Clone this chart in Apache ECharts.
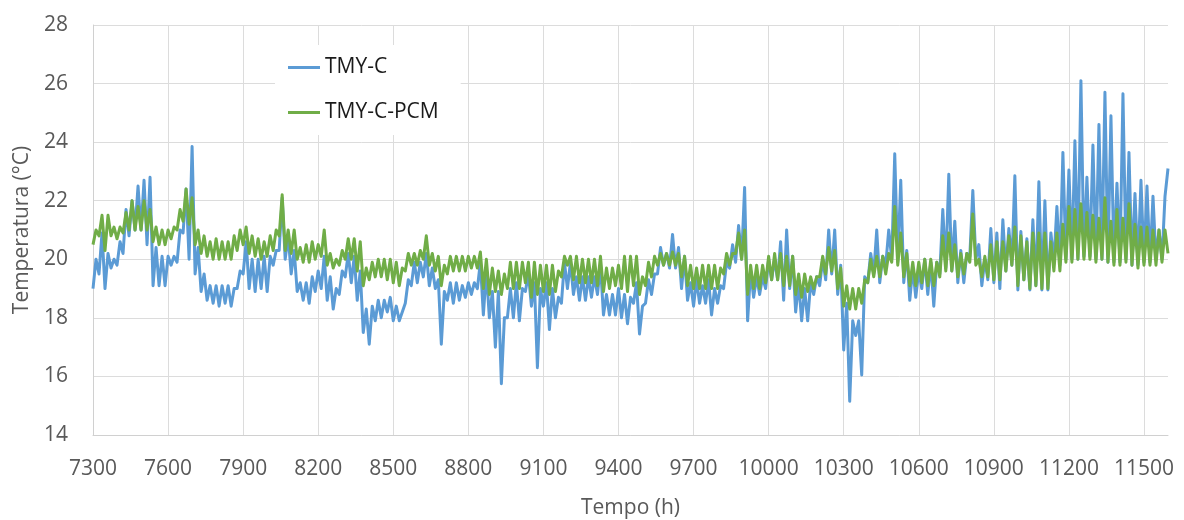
<!DOCTYPE html>
<html>
<head>
<meta charset="utf-8">
<script src="https://cdn.jsdelivr.net/npm/echarts@6/dist/echarts.min.js"></script>
<style>
html,body{margin:0;padding:0;background:#fff;}
#chart{width:1184px;height:520px;}
</style>
</head>
<body>
<div id="chart"></div>
<script>
// Hour of first sample and sampling step (hours)
const startHour = 7300;
const stepHours = 12;
const endHour = 11596;
const seriesNames = ['TMY-C', 'TMY-C-PCM'];

// TMY-C: per day [night, day] pairs
const tmyC = [
19.0,20.0, 19.5,20.9, 19.0,20.2, 19.7,20.0, 19.8,20.6, 20.2,21.7, 20.8,22.0, 21.0,22.5, 21.0,22.7, 20.5,22.8,
19.1,20.4, 19.1,20.1, 19.1,20.1, 19.8,20.1, 19.9,21.0, 20.9,22.4, 20.0,23.85, 19.5,20.4, 18.9,19.5, 18.6,19.1,
18.5,19.1, 18.4,19.1, 18.5,19.1, 18.4,19.0, 19.0,19.6, 19.5,20.6, 19.0,20.0, 18.9,20.0, 19.0,20.1, 18.9,20.1,
19.8,20.3, 20.3,22.1, 20.0,20.8, 19.5,20.3, 18.9,19.2, 18.6,19.2, 18.5,19.4, 18.9,19.6, 19.0,20.1, 18.6,19.4,
18.3,19.0, 18.8,19.6, 19.4,20.2, 19.2,20.1, 18.6,19.6, 17.5,18.3, 17.1,18.4, 17.9,18.6, 18.0,18.6, 18.2,18.7,
17.9,18.4, 17.9,18.2, 18.5,19.3, 19.1,19.9, 19.2,19.9, 19.4,20.2, 19.1,19.7, 19.0,19.3, 17.1,18.9, 18.6,19.2,
18.5,19.2, 18.6,19.1, 18.7,19.2, 18.8,19.2, 19.0,19.9, 18.1,19.6, 18.0,18.9, 17.0,18.9, 15.75,18.0, 18.0,19.0,
18.0,19.2, 17.9,19.0, 18.9,19.5, 18.4,19.2, 16.3,19.0, 18.4,19.2, 17.6,19.0, 18.0,18.7, 18.5,19.9, 19.0,19.9,
18.8,19.4, 18.6,19.4, 18.6,19.4, 18.7,19.4, 18.8,19.8, 18.1,18.8, 18.1,18.8, 18.1,19.0, 18.0,18.8, 17.8,18.7,
18.5,19.2, 17.45,18.4, 18.5,19.3, 18.8,19.5, 19.5,20.4, 19.8,20.2, 19.7,20.85, 19.7,20.4, 19.0,20.1, 18.6,19.2,
18.4,19.3, 18.5,19.1, 18.5,19.3, 18.1,19.0, 18.5,19.1, 19.0,19.9, 19.7,20.5, 19.9,21.15, 20.0,22.45, 17.9,19.6,
18.7,19.4, 18.8,19.4, 19.0,20.0, 19.3,20.0, 19.3,20.6, 18.6,21.0, 19.0,20.1, 18.2,19.2, 17.9,19.0, 17.9,19.2,
18.8,19.4, 19.1,20.0, 19.3,21.0, 19.5,21.0, 18.8,19.8, 16.9,18.5, 15.15,17.9, 17.4,17.9, 16.05,19.4, 19.2,20.2,
19.5,21.0, 19.2,20.1, 19.8,21.0, 20.0,23.6, 19.9,22.7, 19.2,20.3, 18.6,19.7, 18.7,19.6, 19.0,20.0, 18.8,19.9,
18.4,19.9, 19.5,21.7, 19.7,22.9, 19.6,21.3, 19.2,20.3, 19.2,20.2, 20.1,22.35, 20.0,20.5, 19.1,20.0, 19.3,21.05,
19.2,20.9, 19.0,21.35, 19.6,21.05, 19.8,22.85, 18.95,20.95, 19.3,20.7, 18.95,21.35, 19.1,22.65, 18.95,22.0, 18.95,20.9,
19.9,21.8, 19.8,23.65, 20.0,23.05, 20.0,24.05, 20.0,26.1, 20.1,22.8, 20.1,23.9, 20.0,24.6, 20.0,25.7, 19.9,24.9,
19.9,22.6, 19.9,25.65, 20.0,23.65, 19.8,22.25, 19.8,22.7, 19.9,22.5, 19.9,22.15, 20.0,21.0, 20.0,22.15, 23.1
];

// TMY-C-PCM: per day [night, day] pairs
const tmyCPcm = [
20.5,21.0, 20.8,21.5, 20.3,21.5, 20.8,21.1, 20.7,21.1, 20.9,21.6, 21.0,22.0, 21.0,21.8, 21.0,22.0, 21.0,21.7,
20.6,21.1, 20.5,21.0, 20.5,21.0, 20.7,21.1, 21.0,21.7, 21.3,22.4, 21.2,22.1, 20.5,21.0, 20.2,20.8, 20.1,20.6,
20.0,20.7, 20.0,20.6, 20.0,20.6, 20.0,20.8, 20.3,21.0, 20.5,21.1, 20.2,20.8, 20.1,20.7, 20.0,20.6, 20.1,20.8,
20.3,21.0, 20.8,22.2, 20.3,21.0, 20.2,21.0, 20.0,20.4, 19.9,20.5, 19.9,20.6, 20.0,20.5, 20.1,21.0, 19.8,20.2,
19.7,20.0, 19.8,20.3, 20.0,20.7, 20.0,20.7, 19.6,20.6, 19.1,19.7, 19.3,19.9, 19.4,20.0, 19.4,20.0, 19.3,20.0,
19.2,19.9, 19.1,19.7, 19.6,20.2, 19.8,20.2, 19.8,20.3, 20.0,20.8, 19.8,20.2, 19.6,20.1, 19.1,19.8, 19.5,20.1,
19.6,20.1, 19.6,20.1, 19.6,20.1, 19.7,20.1, 19.7,20.25, 19.0,20.0, 18.8,19.7, 18.9,19.6, 18.8,19.5, 19.0,19.9,
19.0,19.9, 19.0,19.9, 19.2,19.9, 18.7,19.9, 18.8,19.8, 18.9,19.8, 18.8,19.8, 18.9,19.6, 19.4,20.1, 19.8,20.1,
19.3,20.1, 19.2,20.0, 19.2,20.0, 19.2,20.0, 19.1,20.1, 18.9,19.7, 19.0,19.7, 19.1,19.8, 19.0,20.1, 18.9,20.1,
19.1,20.1, 18.8,19.4, 19.1,19.9, 19.4,20.1, 19.8,20.2, 19.8,20.2, 19.8,20.25, 19.8,20.2, 19.4,20.1, 19.1,19.8,
19.0,19.7, 19.0,19.8, 19.0,19.8, 19.0,19.8, 19.0,19.7, 19.5,20.2, 19.8,20.2, 20.2,20.9, 20.0,21.0, 18.8,19.8,
19.0,19.8, 19.0,19.8, 19.2,20.1, 19.3,20.2, 19.3,20.2, 19.1,20.1, 19.1,20.1, 18.8,19.5, 18.7,19.5, 18.9,19.4,
19.0,19.4, 19.4,20.1, 19.5,20.4, 19.6,20.3, 19.0,19.7, 18.4,19.1, 18.3,19.0, 18.3,19.0, 18.5,19.3, 19.2,20.0,
19.4,20.1, 19.4,20.1, 19.5,20.2, 19.9,21.8, 19.8,20.9, 19.4,20.2, 19.1,19.9, 19.1,19.9, 19.2,20.0, 19.1,20.0,
19.1,19.9, 19.4,20.8, 19.6,20.9, 19.6,20.5, 19.4,20.2, 19.5,20.2, 19.9,21.55, 19.8,20.0, 19.4,20.1, 19.4,20.5,
19.3,20.6, 19.3,20.6, 19.6,20.8, 19.8,21.1, 19.1,20.8, 19.3,20.6, 19.0,20.9, 19.1,20.9, 19.0,20.9, 19.0,20.6,
19.6,20.9, 19.6,21.2, 19.9,21.8, 19.9,21.7, 20.0,21.9, 20.0,21.6, 20.0,21.5, 19.9,21.4, 20.0,22.1, 19.9,21.3,
19.8,21.7, 19.8,21.4, 19.9,21.9, 19.8,21.2, 19.7,21.1, 19.8,21.1, 19.8,21.0, 19.8,21.0, 19.9,21.0, 20.2
];

function toPairs(values) {
  return values.map((v, i) => [Math.min(startHour + i * stepHours, endHour), v]);
}

const font = '"Open Sans", "Liberation Sans", sans-serif';
const chart = echarts.init(document.getElementById('chart'), null, {renderer: 'canvas'});
chart.setOption({
  animation: false,
  backgroundColor: '#ffffff',
  grid: {left: 93, right: 16, top: 25, bottom: 85, outerBoundsMode: 'none', containLabel: false},
  legend: {
    orient: 'vertical',
    left: 275, top: 45,
    padding: [12, 22, 12, 13],
    backgroundColor: '#ffffff',
    itemWidth: 32, itemHeight: 3,
    itemGap: 24,
    icon: 'rect',
    textStyle: {fontFamily: font, fontSize: 21, color: '#1a1a1a'},
    data: seriesNames
  },
  xAxis: {
    type: 'value',
    min: startHour, max: endHour, interval: 300,
    name: 'Tempo (h)',
    nameLocation: 'middle', nameGap: 73,
    nameTextStyle: {fontFamily: font, fontSize: 21, color: '#595959', verticalAlign: 'middle'},
    axisLine: {show: true, lineStyle: {color: '#d0d0d0', width: 1}},
    axisTick: {show: false},
    axisLabel: {fontFamily: font, fontSize: 21, color: '#595959', margin: 24, showMaxLabel: false,
      formatter: function (v) { return String(v); }},
    splitLine: {show: true, showMaxLine: false, lineStyle: {color: '#dcdcdc', width: 1}}
  },
  yAxis: {
    type: 'value',
    min: 14, max: 28, interval: 2,
    name: 'Temperatura (°C)',
    nameLocation: 'middle', nameGap: 60,
    nameTextStyle: {fontFamily: font, fontSize: 21, color: '#595959'},
    axisLine: {show: true, lineStyle: {color: '#d0d0d0', width: 1}},
    axisTick: {show: false},
    axisLabel: {fontFamily: font, fontSize: 21, color: '#595959', margin: 25},
    splitLine: {show: true, lineStyle: {color: '#dcdcdc', width: 1}}
  },
  series: [
    {
      name: seriesNames[0], type: 'line', data: toPairs(tmyC),
      showSymbol: false, symbol: 'none',
      color: '#5B9BD5',
      lineStyle: {color: '#5B9BD5', width: 3, join: 'round'},
      z: 2
    },
    {
      name: seriesNames[1], type: 'line', data: toPairs(tmyCPcm),
      showSymbol: false, symbol: 'none',
      color: '#70AD47',
      lineStyle: {color: '#70AD47', width: 3, join: 'round'},
      z: 3
    }
  ]
});
</script>
</body>
</html>
